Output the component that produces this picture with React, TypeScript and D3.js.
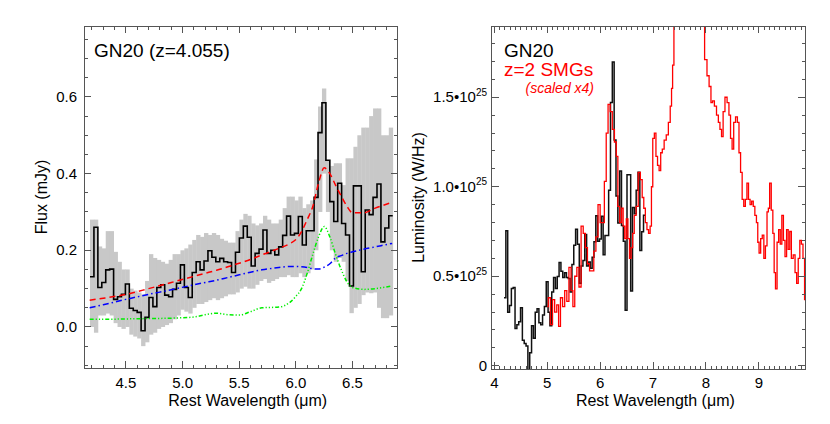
import React from 'react';
import * as d3 from 'd3';

const W = 830;
const H = 424;
const FONT = '"Liberation Sans", Arial, Helvetica, sans-serif';
const AXIS = '#555';

// GN20 IRS spectrum, regular bins starting at 4.183 um
const gnStart = 4.183;
const gnStep = 0.0347;
const gnFlux = [
  0.131, 0.260, 0.103, 0.116, 0.149, 0.151, 0.072, 0.079, 0.085, 0.112,
  0.049, 0.043, 0.038, -0.010, 0.025, 0.077, 0.053, 0.103, 0.110, 0.083,
  0.079, 0.098, 0.114, 0.162, 0.103, 0.077, 0.142, 0.170, 0.149, 0.172,
  0.199, 0.182, 0.170, 0.179, 0.170, 0.168, 0.142, 0.195, 0.232, 0.263,
  0.234, 0.159, 0.192, 0.203, 0.253, 0.192, 0.200, 0.188, 0.209, 0.239,
  0.289, 0.240, 0.244, 0.288, 0.214, 0.251, 0.251, 0.338, 0.507, 0.585,
  0.435, 0.327, 0.275, 0.375, 0.270, 0.240, 0.107, 0.368, 0.368, 0.144,
  0.305, 0.293, 0.338, 0.373, 0.222, 0.258, 0.290,
];
// error band (upper / lower edge, mJy)
const gnHi = [
  0.28, 0.28, 0.21, 0.205, 0.25, 0.25, 0.196, 0.17, 0.15, 0.15,
  0.10, 0.095, 0.09, 0.085, 0.12, 0.19, 0.18, 0.175, 0.17, 0.165,
  0.175, 0.19, 0.19, 0.20, 0.205, 0.215, 0.227, 0.24, 0.235, 0.245,
  0.24, 0.245, 0.24, 0.23, 0.225, 0.22, 0.22, 0.25, 0.28, 0.295,
  0.29, 0.27, 0.265, 0.27, 0.29, 0.28, 0.27, 0.27, 0.28, 0.31,
  0.34, 0.34, 0.33, 0.34, 0.31, 0.32, 0.33, 0.437, 0.575, 0.622,
  0.435, 0.42, 0.427, 0.427, 0.37, 0.44, 0.44, 0.47, 0.50, 0.52,
  0.52, 0.55, 0.57, 0.57, 0.50, 0.50, 0.52,
];
const gnLo = [
  0.0, -0.015, 0.03, 0.03, 0.035, 0.03, 0.01, 0.0, -0.005, 0.0,
  -0.02, -0.025, -0.03, -0.05, -0.04, -0.02, -0.015, -0.005, 0.0, 0.005,
  0.01, 0.02, 0.03, 0.045, 0.04, 0.035, 0.05, 0.06, 0.06, 0.065,
  0.07, 0.075, 0.07, 0.075, 0.08, 0.085, 0.085, 0.09, 0.10, 0.105,
  0.10, 0.10, 0.11, 0.12, 0.125, 0.115, 0.12, 0.125, 0.13, 0.13,
  0.135, 0.13, 0.13, 0.14, 0.13, 0.14, 0.15, 0.20, 0.30, 0.40,
  0.30, 0.20, 0.17, 0.18, 0.17, 0.12, 0.036, 0.05, 0.06, 0.083,
  0.09, 0.088, 0.09, 0.05, 0.023, 0.023, 0.03,
];

// fit components
const modelWave = [4.18, 4.3, 4.5, 4.7, 4.9, 5.1, 5.2, 5.3, 5.4, 5.5, 5.6, 5.7, 5.85, 5.95,
  6.0, 6.05, 6.1, 6.15, 6.2, 6.25, 6.3, 6.35, 6.4, 6.45, 6.5, 6.6, 6.7, 6.85];
const modelTotal = [0.07, 0.075, 0.085, 0.1, 0.116, 0.132, 0.14, 0.148, 0.157, 0.166, 0.176, 0.188,
  0.205, 0.218, 0.228, 0.249, 0.28, 0.315, 0.375, 0.415, 0.4, 0.37, 0.342, 0.315, 0.298, 0.298, 0.31, 0.325];
const modelCont = [0.05, 0.058, 0.072, 0.085, 0.097, 0.11, 0.116, 0.122, 0.129, 0.136, 0.143, 0.149,
  0.155, 0.158, 0.158, 0.157, 0.155, 0.152, 0.151, 0.156, 0.165, 0.18, 0.186, 0.192, 0.196, 0.203, 0.209, 0.218];
const modelPah = [0.02, 0.02, 0.021, 0.022, 0.023, 0.026, 0.032, 0.036, 0.032, 0.031, 0.04, 0.05,
  0.052, 0.065, 0.08, 0.1, 0.14, 0.19, 0.235, 0.262, 0.235, 0.19, 0.15, 0.118, 0.103, 0.098, 0.1, 0.107];

// mJy -> 1e25 W/Hz for GN20
const FLUX_TO_LUM = 2.9;

// z=2 SMG composite (scaled x4), 1e25 W/Hz
const smgWave = [
  5.00, 5.04, 5.08, 5.12, 5.16, 5.20, 5.23, 5.27, 5.31, 5.35, 5.39, 5.43, 5.47, 5.50, 5.54, 5.58,
  5.62, 5.66, 5.70, 5.74, 5.78, 5.82, 5.86, 5.90, 5.94, 5.98, 6.02, 6.06, 6.10, 6.13, 6.17, 6.21,
  6.25, 6.29, 6.32, 6.35, 6.39, 6.42, 6.45, 6.48, 6.51, 6.54, 6.57, 6.60, 6.63, 6.66, 6.70, 6.74,
  6.78, 6.81, 6.84, 6.87, 6.90, 6.93, 6.96, 6.98, 7.01, 7.04, 7.07, 7.10, 7.13, 7.16, 7.19, 7.23,
  7.27, 7.31, 7.34, 7.36, 7.38, 7.41, 7.45, 7.50, 7.55, 7.60, 7.65, 7.70, 7.75, 7.80, 7.85, 7.90,
  7.95, 8.00, 8.04, 8.08, 8.11, 8.14, 8.18, 8.22, 8.25, 8.28, 8.31, 8.34, 8.38, 8.42, 8.45, 8.48,
  8.51, 8.54, 8.58, 8.61, 8.64, 8.67, 8.70, 8.73, 8.76, 8.79, 8.82, 8.85, 8.88, 8.91, 8.94, 8.97,
  8.99, 9.02, 9.05, 9.08, 9.11, 9.14, 9.17, 9.19, 9.22, 9.25, 9.28, 9.30, 9.33, 9.36, 9.39, 9.42,
  9.45, 9.48, 9.51, 9.54, 9.57, 9.60, 9.63, 9.67, 9.70, 9.73, 9.76, 9.79, 9.82, 9.85, 9.88,
];
const smgLum = [
  0.33, 0.38, 0.23, 0.37, 0.30, 0.34, 0.22, 0.38, 0.33, 0.42, 0.36, 0.55, 0.42, 0.33, 0.50, 0.55,
  0.44, 0.78, 0.74, 0.66, 0.57, 0.53, 0.53, 0.64, 0.72, 0.90, 0.80, 0.80, 1.03, 1.30, 1.46, 1.42,
  1.32, 1.25, 1.17, 0.89, 0.80, 0.88, 0.78, 0.71, 0.82, 0.71, 0.60, 0.66, 0.74, 0.84, 0.89, 1.08,
  1.04, 0.94, 0.88, 0.80, 0.76, 0.74, 0.78, 1.00, 1.27, 1.30, 1.17, 1.12, 1.09, 1.19, 1.21, 1.26,
  1.29, 1.36, 1.45, 1.55, 1.68, 2.05, 2.35, 2.60, 2.80, 2.95, 3.00, 2.95, 2.85, 2.70, 2.50, 2.30,
  2.05, 1.71, 1.62, 1.56, 1.47, 1.48, 1.45, 1.40, 1.36, 1.32, 1.28, 1.42, 1.50, 1.47, 1.40, 1.27,
  1.21, 1.36, 1.39, 1.36, 1.19, 1.08, 0.93, 0.89, 0.93, 1.02, 0.93, 0.90, 0.92, 0.89, 0.84, 0.80,
  0.69, 0.63, 0.71, 0.73, 0.60, 0.67, 0.86, 0.88, 1.02, 0.87, 0.74, 0.52, 0.43, 0.69, 0.76, 0.68,
  0.84, 0.70, 0.61, 0.76, 0.65, 0.75, 0.60, 0.62, 0.52, 0.46, 0.60, 0.70, 0.68, 0.60, 0.37,
];

const leftXMajor = [4.5, 5.0, 5.5, 6.0, 6.5];
const leftXLabels = ['4.5', '5.0', '5.5', '6.0', '6.5'];
const leftYMajor = [0, 0.2, 0.4, 0.6];
const leftYLabels = ['0.0', '0.2', '0.4', '0.6'];
const rightXMajor = [4, 5, 6, 7, 8, 9];
const rightXLabels = ['4', '5', '6', '7', '8', '9'];
const rightYMajor = [0, 0.5, 1.0, 1.5];
const rightYLabels = ['0', '0.5', '1.0', '1.5'];

// scales
const xL = d3.scaleLinear().domain([4.13, 6.897]).range([84, 397.5]);
const yL = d3.scaleLinear().domain([-0.107, 0.785]).range([368, 26]);
const xR = d3.scaleLinear().domain([3.95, 9.873]).range([491.7, 805]);
const yR = d3.scaleLinear().domain([-0.018, 1.898]).range([369, 26]);

const near = (v: number, arr: number[]) => arr.some(a => Math.abs(a - v) < 1e-6);

function Frame({ xs, ys, xMajor, xMinor, yMajor, yMinor }: any) {
  const [x0, x1] = xs.range();
  const [y1, y0] = ys.range();
  const MAJ = 7;
  const MIN = 3.5;
  return (
    <g stroke={AXIS} strokeWidth={1} fill="none" shapeRendering="crispEdges">
      <rect x={x0} y={y0} width={x1 - x0} height={y1 - y0} />
      {xMinor.filter((v: number) => !near(v, xMajor)).map((v: number) => (
        <g key={'xm' + v}>
          <line x1={xs(v)} x2={xs(v)} y1={y1} y2={y1 - MIN} />
          <line x1={xs(v)} x2={xs(v)} y1={y0} y2={y0 + MIN} />
        </g>
      ))}
      {xMajor.map((v: number) => (
        <g key={'xM' + v}>
          <line x1={xs(v)} x2={xs(v)} y1={y1} y2={y1 - MAJ} />
          <line x1={xs(v)} x2={xs(v)} y1={y0} y2={y0 + MAJ} />
        </g>
      ))}
      {yMinor.filter((v: number) => !near(v, yMajor)).map((v: number) => (
        <g key={'ym' + v}>
          <line x1={x0} x2={x0 + MIN} y1={ys(v)} y2={ys(v)} />
          <line x1={x1} x2={x1 - MIN} y1={ys(v)} y2={ys(v)} />
        </g>
      ))}
      {yMajor.map((v: number) => (
        <g key={'yM' + v}>
          <line x1={x0} x2={x0 + MAJ} y1={ys(v)} y2={ys(v)} />
          <line x1={x1} x2={x1 - MAJ} y1={ys(v)} y2={ys(v)} />
        </g>
      ))}
    </g>
  );
}

export default function App() {
  // bin edges for the GN20 histogram
  const edges = gnFlux.map((_, i) => gnStart + i * gnStep);
  const stepPts: [number, number][] = gnFlux.map((f, i) => [edges[i], f]);
  stepPts.push([gnStart + gnFlux.length * gnStep, gnFlux[gnFlux.length - 1]]);

  const stepL = d3.line<[number, number]>().x(d => xL(d[0])).y(d => yL(d[1])).curve(d3.curveStepAfter);
  const stepR = d3.line<[number, number]>().x(d => xR(d[0])).y(d => yR(d[1] * FLUX_TO_LUM)).curve(d3.curveStepAfter);
  const smooth = (vals: number[]) =>
    d3.line<number>().x((_, i) => xL(modelWave[i])).y(d => yL(d)).curve(d3.curveMonotoneX)(vals) || '';
  const smgLine = d3.line<number>().x((_, i) => xR(smgWave[i])).y(d => yR(d)).curve(d3.curveStep);

  const leftXMinor = d3.range(42, 69).map(v => v / 10);
  const leftYMinor = d3.range(-2, 16).map(v => v * 0.05);
  const rightXMinor = d3.range(40, 99).map(v => v / 10);
  const rightYMinor = d3.range(0, 19).map(v => v / 10);

  const [lx0, lx1] = xL.range();
  const [ly1, ly0] = yL.range();
  const [rx0, rx1] = xR.range();
  const [ry1, ry0] = yR.range();

  return (
    <svg width={W} height={H} style={{ position: 'absolute', left: 0, top: 0, background: '#fff' }}
      fontFamily={FONT}>
      <defs>
        <clipPath id="clipL"><rect x={lx0} y={ly0} width={lx1 - lx0} height={ly1 - ly0} /></clipPath>
        <clipPath id="clipR"><rect x={rx0} y={ry0} width={rx1 - rx0} height={ry1 - ry0} /></clipPath>
      </defs>

      {/* left panel */}
      <g clipPath="url(#clipL)">
        {gnFlux.map((_, i) => (
          <rect key={i} x={xL(edges[i])} width={xL(edges[i] + gnStep) - xL(edges[i]) + 0.4}
            y={yL(gnHi[i])} height={yL(gnLo[i]) - yL(gnHi[i])} fill="#c8c8c8" />
        ))}
        <path d={stepL(stepPts) || ''} fill="none" stroke="#000" strokeWidth={1.6} />
        <path d={smooth(modelPah)} fill="none" stroke="#00ee00" strokeWidth={1.5} strokeDasharray="4,2,1.2,2,1.2,2,1.2,2" />
        <path d={smooth(modelCont)} fill="none" stroke="#0000ff" strokeWidth={1.5} strokeDasharray="6,3,1.5,3" />
        <path d={smooth(modelTotal)} fill="none" stroke="#ff0000" strokeWidth={1.5} strokeDasharray="6,4" />
      </g>
      <Frame xs={xL} ys={yL} xMajor={leftXMajor} xMinor={leftXMinor} yMajor={leftYMajor} yMinor={leftYMinor} />
      <g fontSize={15} fill="#000">
        {leftXMajor.map((v, i) => (
          <text key={v} x={xL(v)} y={388} textAnchor="middle">{leftXLabels[i]}</text>
        ))}
        {leftYMajor.map((v, i) => (
          <text key={v} x={77} y={yL(v) + 5} textAnchor="end">{leftYLabels[i]}</text>
        ))}
      </g>
      <text x={(lx0 + lx1) / 2 + 7} y={406} fontSize={16} textAnchor="middle">Rest Wavelength (μm)</text>
      <text transform={`translate(47,${(ly0 + ly1) / 2}) rotate(-90)`} fontSize={16} textAnchor="middle">Flux (mJy)</text>
      <text x={94} y={57} fontSize={19}>GN20 (z=4.055)</text>

      {/* right panel */}
      <g clipPath="url(#clipR)">
        <path d={stepR(stepPts) || ''} fill="none" stroke="#111" strokeWidth={1.5} />
        <path d={smgLine(smgLum) || ''} fill="none" stroke="#ff0000" strokeWidth={1.3} />
      </g>
      <Frame xs={xR} ys={yR} xMajor={rightXMajor} xMinor={rightXMinor} yMajor={rightYMajor} yMinor={rightYMinor} />
      <g fontSize={15} fill="#000">
        {rightXMajor.map((v, i) => (
          <text key={v} x={xR(v)} y={388} textAnchor="middle">{rightXLabels[i]}</text>
        ))}
        {rightYMajor.map((v, i) => (
          <text key={v} x={487} y={yR(v) + 5} textAnchor="end">
            {v === 0 ? rightYLabels[i] : (
              <>
                <tspan>{rightYLabels[i]}•10</tspan>
                <tspan dy={-6.5} fontSize={10}>25</tspan>
              </>
            )}
          </text>
        ))}
      </g>
      <text x={(rx0 + rx1) / 2 + 7} y={406} fontSize={16} textAnchor="middle">Rest Wavelength (μm)</text>
      <text transform={`translate(424,${(ry0 + ry1) / 2}) rotate(-90)`} fontSize={16} textAnchor="middle">Luminosity (W/Hz)</text>
      <text x={504} y={57} fontSize={19}>GN20</text>
      <text x={504} y={76} fontSize={19} fill="#ff0000">z=2 SMGs</text>
      <text x={594} y={93} fontSize={14} fill="#ff0000" fontStyle="italic" textAnchor="end">(scaled x4)</text>
    </svg>
  );
}
